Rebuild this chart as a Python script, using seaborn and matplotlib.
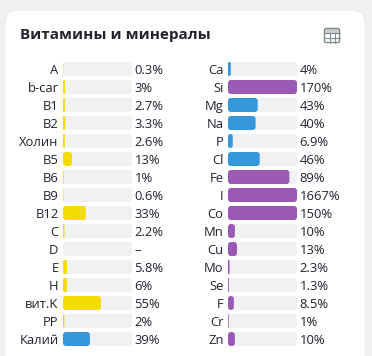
import pandas as pd
import matplotlib
matplotlib.use('Agg')
import matplotlib.pyplot as plt
import seaborn as sns
from matplotlib.patches import FancyBboxPatch, Rectangle

left_names = ['A', 'b-car', 'B1', 'B2', 'Холин', 'B5', 'B6', 'B9', 'B12', 'C', 'D', 'E', 'H', 'вит.K', 'PP', 'Калий']
left_values = [0.3, 3, 2.7, 3.3, 2.6, 13, 1, 0.6, 33, 2.2, 0, 5.8, 6, 55, 2, 39]
left_labels = ['0.3%', '3%', '2.7%', '3.3%', '2.6%', '13%', '1%', '0.6%', '33%', '2.2%', '–', '5.8%', '6%', '55%', '2%', '39%']
left_groups = ['vit'] * 15 + ['norm']

right_names = ['Ca', 'Si', 'Mg', 'Na', 'P', 'Cl', 'Fe', 'I', 'Co', 'Mn', 'Cu', 'Mo', 'Se', 'F', 'Cr', 'Zn']
right_values = [4, 170, 43, 40, 6.9, 46, 89, 1667, 150, 10, 13, 2.3, 1.3, 8.5, 1, 10]
right_labels = ['4%', '170%', '43%', '40%', '6.9%', '46%', '89%', '1667%', '150%', '10%', '13%', '2.3%', '1.3%', '8.5%', '1%', '10%']
right_groups = ['norm', 'high', 'norm', 'norm', 'norm', 'norm'] + ['high'] * 10

colors = {'vit': '#f5dc00', 'norm': '#3498db', 'high': '#9b59b6'}
track = '#f0f1f3'
text_color = '#23232f'
W, H = 372, 356
PX = 100 / 69  # x data units per pixel
PY = 1 / 18    # y data units per pixel

sns.set_theme(style='white')
plt.rcParams['font.family'] = ['Open Sans', 'Noto Sans', 'DejaVu Sans']

fig = plt.figure(figsize=(W / 100, H / 100), dpi=100, facecolor='#eff0f2')

# card, title and icon, in pixels
bg = fig.add_axes([0, 0, 1, 1])
bg.set_xlim(0, W)
bg.set_ylim(H, 0)
bg.axis('off')
bg.add_patch(FancyBboxPatch((5, 10), 360, 400, boxstyle='round,pad=0,rounding_size=14',
                            fc='white', ec='#e9eaec', lw=0.6))
bg.text(20, 35.5, 'Витамины и минералы', fontsize=10.95, fontweight='bold', color='#22222e',
        va='center', ha='left')

ic = '#7f8c8d'
bg.add_patch(Rectangle((324.5, 28.5), 15, 4.5, fc='#c9cdd0', ec='none'))
bg.add_patch(FancyBboxPatch((324.5, 28.5), 15, 14, boxstyle='round,pad=0,rounding_size=1.5',
                            fc='none', ec=ic, lw=1))
bg.plot([324.5, 339.5], [33, 33], color=ic, lw=0.8)
bg.plot([324.5, 339.5], [37.5, 37.5], color=ic, lw=0.8)
bg.plot([329.5, 329.5], [33, 42.5], color=ic, lw=0.8)
bg.plot([334.5, 334.5], [33, 42.5], color=ic, lw=0.8)


def rounded(ax, bar, color):
    x, y, w, h = bar.get_x(), bar.get_y(), bar.get_width(), bar.get_height()
    if w <= 0:
        return
    r = min(3, w / PX / 2) * PX
    ax.add_patch(FancyBboxPatch((x, y), w, h, boxstyle=f'round,pad=0,rounding_size={r}',
                                mutation_aspect=PY / PX, fc=color, ec='none'))


def draw_column(x0, names, values, labels, groups):
    ax = fig.add_axes([x0 / W, 1 - 348 / H, 69 / W, 288 / H])
    ax.patch.set_alpha(0)
    df = pd.DataFrame({'name': names, 'value': values, 'group': groups})
    df['shown'] = df['value'].clip(upper=100)
    df['full'] = 100

    sns.barplot(data=df, x='full', y='name', order=names, color=track, width=14 / 18, saturation=1, ax=ax)
    n_track = len(ax.patches)
    sns.barplot(data=df, x='shown', y='name', hue='group', order=names, palette=colors, dodge=False,
                width=14 / 18, saturation=1, legend=False, ax=ax)

    # swap square bars for rounded ones
    bars = list(ax.patches)
    for i, bar in enumerate(bars):
        col = track if i < n_track else bar.get_facecolor()
        rounded(ax, bar, col)
        bar.remove()

    ax.set_xlim(0, 100)
    ax.set_ylim(len(names) - 0.5, -0.5)
    ax.set_xlabel('')
    ax.set_ylabel('')
    ax.set_xticks([])
    ax.tick_params(axis='y', length=0, pad=3.2, labelsize=9.4, labelcolor=text_color)
    sns.despine(ax=ax, left=True, bottom=True)
    for i, lab in enumerate(labels):
        ax.annotate(lab, (100, i), xytext=(1.8, -0.8), textcoords='offset points', va='center', ha='left',
                    fontsize=9.4, color=text_color, annotation_clip=False)


draw_column(63, left_names, left_values, left_labels, left_groups)
draw_column(228, right_names, right_values, right_labels, right_groups)

fig.savefig('out.png', dpi=100, facecolor=fig.get_facecolor())
